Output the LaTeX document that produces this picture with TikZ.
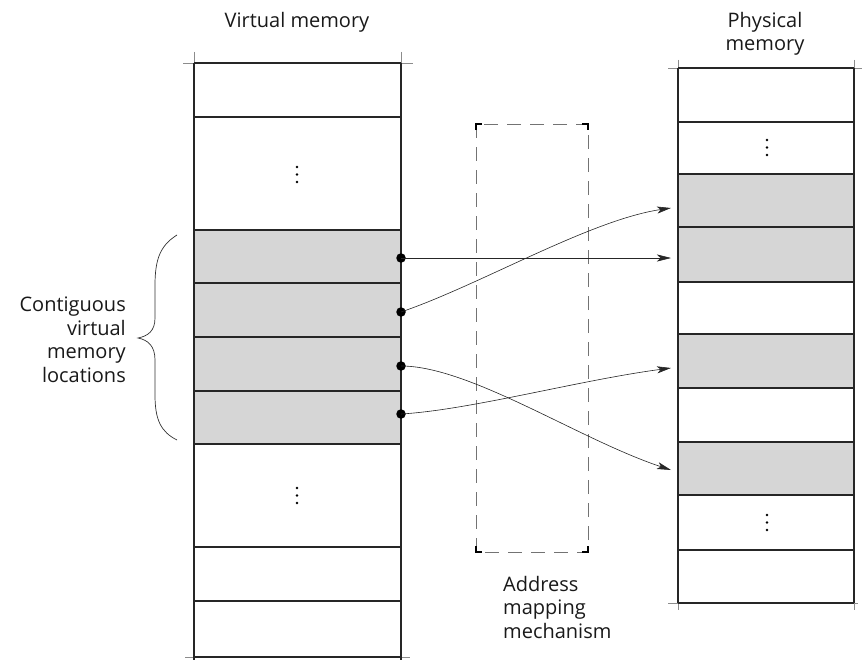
\documentclass[tikz,border=0pt]{standalone}
\usepackage{fontspec}
\setmainfont{Open Sans}
\usetikzlibrary{arrows.meta}
\begin{document}
\begin{tikzpicture}[x=1pt,y=-1pt,
  rule/.style={draw=black!85,line width=1.1pt},
  ext/.style={draw=black!45,line width=0.7pt},
  shaded/.style={fill=black!16},
  dot/.style={fill=black,draw=none},
  conn/.style={draw=black!85,line width=0.6pt,-{Stealth[length=14pt,width=7pt,inset=3.5pt]}},
  bullet/.style={circle,fill=black,inner sep=0pt,minimum size=9.5pt},
  lbl/.style={font=\fontsize{20}{23.5}\selectfont,text=black!90,inner sep=0pt},
  dashbox/.style={draw=black!55,line width=0.6pt,dash pattern=on 14pt off 9pt},
  corner/.style={draw=black,line width=1.2pt}]
\useasboundingbox (0,0) rectangle (862,661);

% ---------- Virtual memory ----------
\fill[shaded] (194,230) rectangle (401,444);
\foreach \y in {117,230,283,337,391,444,547,601}
  \draw[rule] (194,\y) -- (401,\y);
\draw[ext] (183,63) -- (413,63);
\draw[ext] (185,657) -- (410,657);
\draw[ext] (194,52) -- (194,63);
\draw[ext] (401,52) -- (401,63);
\draw[rule] (194,63) -- (401,63);
\draw[rule] (194,657) -- (401,657);
\draw[rule] (194,63) -- (194,660);
\draw[rule] (401,63) -- (401,660);
\foreach \y in {167,174.5,182,488,495.5,503}
  \fill[dot] (297,\y) circle (1.4pt);

% ---------- Physical memory ----------
\fill[shaded] (678,174) rectangle (854,282);
\fill[shaded] (678,334) rectangle (854,388);
\fill[shaded] (678,442) rectangle (854,495);
\foreach \y in {122,174,227,282,334,388,442,495,550}
  \draw[rule] (678,\y) -- (854,\y);
\draw[ext] (668,68) -- (862,68);
\draw[ext] (668,603) -- (858,603);
\draw[ext] (678,60) -- (678,68);
\draw[ext] (854,60) -- (854,68);
\draw[ext] (678,603) -- (678,610);
\draw[ext] (854,603) -- (854,610);
\draw[rule] (678,68) -- (854,68);
\draw[rule] (678,603) -- (854,603);
\draw[rule] (678,68) -- (678,603);
\draw[rule] (854,68) -- (854,603);
\foreach \y in {140,147.5,155,515,522.5,530}
  \fill[dot] (767,\y) circle (1.4pt);

% ---------- Address mapping box ----------
\draw[dashbox] (476,124) rectangle (588,552);
\draw[corner] (476,130) -- (476,124) -- (482,124);
\draw[corner] (582,124) -- (588,124) -- (588,130);
\draw[corner] (476,546) -- (476,552) -- (482,552);
\draw[corner] (582,552) -- (588,552) -- (588,546);

% ---------- Brace ----------
\draw[black!80,line width=0.7pt] (177,235) .. controls (161,245) and (155,258) .. (155,285)
  -- (155,318) .. controls (155,331) and (148,336) .. (138,338)
  .. controls (148,340) and (155,346) .. (155,360)
  -- (155,395) .. controls (155,420) and (161,432) .. (177,440);

% ---------- Labels ----------
\node[lbl] (vm) at (297,22) {Virtual memory};
\node[lbl,align=center] (pm) at (765,34) {Physical\\memory};
\node[lbl,align=right,anchor=east] (cv) at (126,340) {Contiguous\\virtual\\memory\\locations};
\node[lbl,align=left,anchor=north west] (am) at (503,576) {Address\\mapping\\mechanism};

% ---------- Mappings ----------
\node[bullet] (b1) at (401,258) {};
\node[bullet] (b2) at (401,312) {};
\node[bullet] (b3) at (401,366) {};
\node[bullet] (b4) at (401,414) {};
\coordinate (a1) at (671,208);
\coordinate (a2) at (671,258);
\coordinate (a3) at (671,368);
\coordinate (a4) at (671,470);
\draw[conn] (b1.center) -- (a2);
\draw[conn] (b2.center) .. controls (480,285) and (590,220) .. (a1);
\draw[conn] (b3.center) .. controls (470,366) and (580,440) .. (a4);
\draw[conn] (b4.center) .. controls (470,410) and (580,380) .. (a3);
\end{tikzpicture}
\end{document}
